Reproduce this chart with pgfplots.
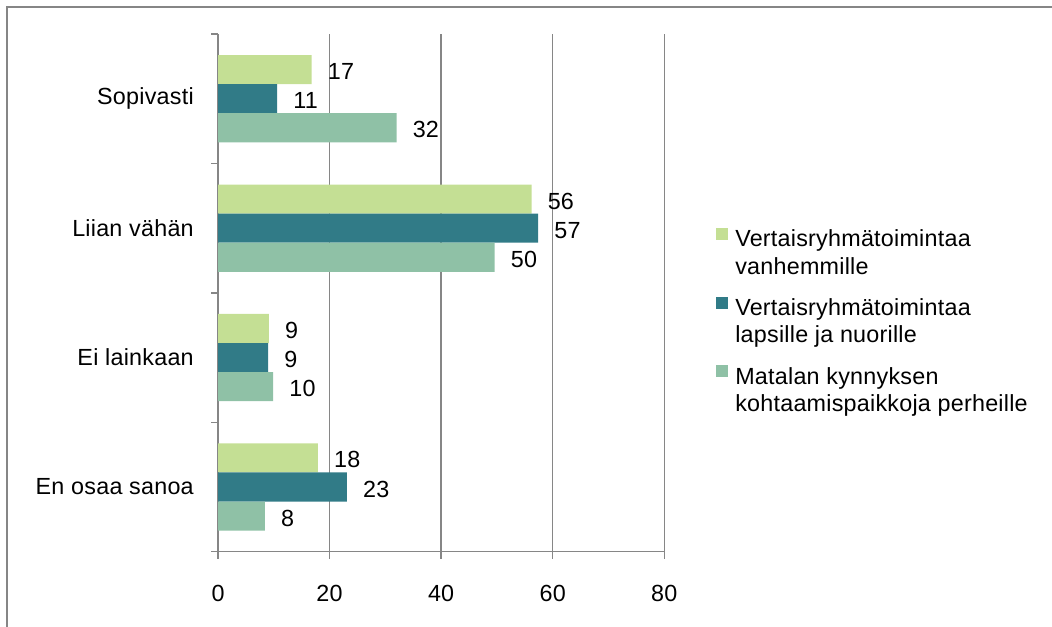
\documentclass[border=0pt]{standalone}
\usepackage{fontspec}
\setmainfont{Liberation Sans}[LetterSpace=1]
\usepackage{pgfplots}
\pgfplotsset{compat=1.18}
\definecolor{cgreen}{RGB}{196,223,148}
\definecolor{cteal}{RGB}{49,123,135}
\definecolor{csea}{RGB}{143,193,166}
\definecolor{cgrid}{RGB}{134,134,134}
\begin{document}
\begin{tikzpicture}
\draw[cgrid, line width=1.3pt] (5.25pt,-20pt) -- (5.25pt,464.25pt) -- (820pt,464.25pt);
\begin{axis}[
  at={(163.5pt,55.7pt)}, anchor=south west,
  scale only axis, width=334.7pt, height=388.3pt,
  xbar, bar width=21.8pt,
  xmin=0, xmax=80, ymin=-0.5, ymax=3.5,
  axis lines*=left,
  axis line style={cgrid, line width=1pt},
  xtick={0,20,40,60,80},
  ytick={-0.5,0.5,1.5,2.5,3.5}, yticklabels={},
  extra y ticks={0,1,2,3},
  extra y tick labels={En osaa sanoa, Ei lainkaan, Liian vähän, Sopivasti},
  extra y tick style={major tick length=0pt, yticklabel style={inner sep=0pt, xshift=-18pt}},
  tick align=outside, tick pos=left,
  major tick length=5.25pt,
  tick style={cgrid, line width=1pt},
  xmajorgrids, grid style={cgrid, line width=1pt},
  /pgf/number format/assume math mode=true,
  ticklabel style={font=\fontsize{17.5}{20}\selectfont, text=black},
  xticklabel style={inner sep=0pt, yshift=-20pt},
  point meta=explicit symbolic,
  nodes near coords,
  every node near coord/.append style={anchor=west, inner sep=0pt, xshift=12pt, yshift=-1.5pt, font=\fontsize{17.5}{20}\selectfont, text=black},
  legend cell align=left,
  legend style={at={(axis description cs:1.116,0.626)}, anchor=north west, draw=none, fill=none, inner sep=0pt, row sep=15.5pt,
    nodes={inner sep=0pt, align=left, font=\fontsize{17.5}{20.5}\selectfont}},
  mylegend/.style={legend image code/.code={\fill[##1] (0pt,9.75pt) rectangle (9pt,18.75pt); \path (14.25pt,0pt);}},
]
\addplot[fill=cgreen, draw=none, bar shift=21.8pt, mylegend] coordinates {(16.8,3) [17] (56.2,2) [56] (9.1,1) [9] (17.9,0) [18]};
\addplot[fill=cteal, draw=none, bar shift=0pt, mylegend] coordinates {(10.6,3) [11] (57.4,2) [57] (9.0,1) [9] (23.1,0) [23]};
\addplot[fill=csea, draw=none, bar shift=-21.8pt, mylegend] coordinates {(32.0,3) [32] (49.6,2) [50] (9.9,1) [10] (8.4,0) [8]};
\legend{Vertaisryhmätoimintaa\\vanhemmille, Vertaisryhmätoimintaa\\lapsille ja nuorille, Matalan kynnyksen\\kohtaamispaikkoja perheille}
\end{axis}
\pgfresetboundingbox
\useasboundingbox (0,0) rectangle (789pt,469.5pt);
\end{tikzpicture}
\end{document}
